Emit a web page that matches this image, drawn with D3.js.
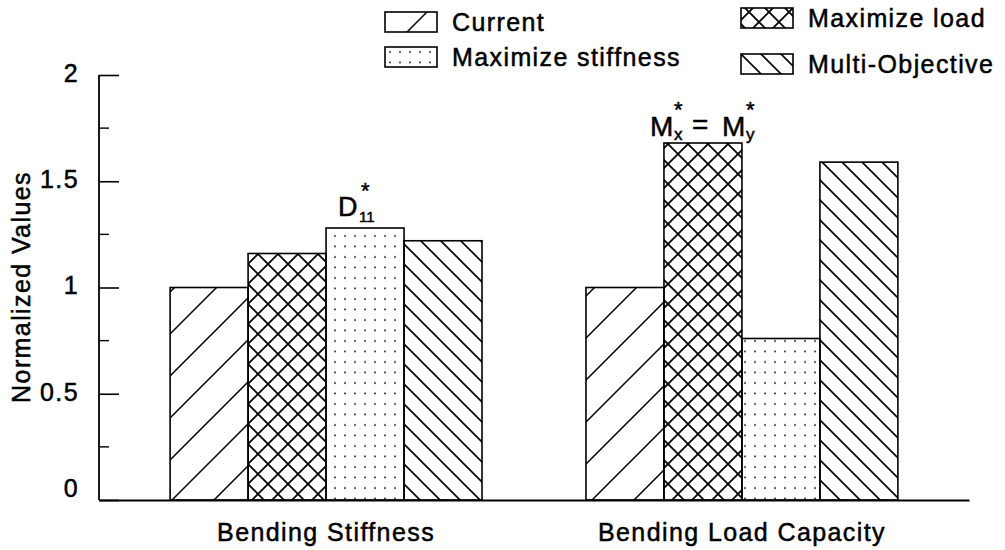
<!DOCTYPE html>
<meta charset="utf-8">
<style>
body { margin: 0; background: #fff; }
text {
  fill: #000;
  font-family: "Liberation Sans", Arial, sans-serif;
  stroke: #000;
  stroke-width: 0.5px;
}
.tick text, .label, .legend text { font-size: 25px; letter-spacing: 1.4px; }
.note { font-size: 27px; }
</style>
<svg width="1005" height="550"></svg>
<script src="https://d3js.org/d3.v7.min.js"></script>
<script>
const groups = ["Bending Stiffness", "Bending Load Capacity"]
const series = ["Current", "Maximize load", "Maximize stiffness", "Multi-Objective"]
const current = [1.0, 1.0]
const maxLoad = [1.16, 1.68]
const maxStiff = [1.28, 0.76]
const multiObj = [1.22, 1.59]
const yTicks = [0, 0.5, 1, 1.5, 2]
const yMinorTicks = [0.25, 0.75, 1.25, 1.75]
const patternIds = ["p-fwd", "p-cross", "p-dots", "p-back"]

const values = [current, maxLoad, maxStiff, multiObj]

const svg = d3.select("svg")
const plotLeft = 99, plotRight = 969, plotTop = 75, plotBottom = 500

const x0 = d3.scaleBand().domain(groups).range([plotLeft, plotRight])
    .paddingInner(0.25).paddingOuter(0.171)
const x1 = d3.scaleBand().domain(series).range([0, x0.bandwidth()])
const y = d3.scaleLinear().domain([0, 2]).range([plotBottom, plotTop])

// fill patterns
const defs = svg.append("defs")

const fwd = defs.append("pattern").attr("id", "p-fwd")
    .attr("patternUnits", "userSpaceOnUse").attr("width", 42).attr("height", 42)
fwd.append("path").attr("d", "M-4,46 L46,-4 M-4,4 L4,-4 M38,46 L46,38")
    .attr("stroke", "#000").attr("stroke-width", 1.5)

const cross = defs.append("pattern").attr("id", "p-cross")
    .attr("patternUnits", "userSpaceOnUse").attr("width", 20).attr("height", 20)
    .attr("x", 8).attr("y", 4)
cross.append("path").attr("d", "M-2,22 L22,-2 M-2,-2 L22,22 M-2,2 L2,-2 M18,22 L22,18 M-2,18 L2,22 M18,-2 L22,2")
    .attr("stroke", "#000").attr("stroke-width", 1.8)

const dots = defs.append("pattern").attr("id", "p-dots")
    .attr("patternUnits", "userSpaceOnUse").attr("width", 10).attr("height", 10.5)
dots.append("circle").attr("cx", 5).attr("cy", 5).attr("r", 1).attr("fill", "#222")

const back = defs.append("pattern").attr("id", "p-back")
    .attr("patternUnits", "userSpaceOnUse").attr("width", 20).attr("height", 20)
back.append("path").attr("d", "M-2,-2 L22,22 M-2,18 L2,22 M18,-2 L22,2")
    .attr("stroke", "#000").attr("stroke-width", 1.6)

// bars
const barData = []
groups.forEach((g, gi) => series.forEach((s, si) => {
  barData.push({group: g, key: s, value: values[si][gi], pid: patternIds[si]})
}))

svg.append("g").selectAll("rect")
  .data(barData)
  .enter().append("rect")
    .attr("x", d => x0(d.group) + x1(d.key))
    .attr("y", d => y(d.value))
    .attr("width", x1.bandwidth())
    .attr("height", d => y(0) - y(d.value))
    .attr("fill", d => `url(#${d.pid})`)
    .attr("stroke", "#000")
    .attr("stroke-width", 1.6)

// y axis, ticks pointing inward
const yAxis = svg.append("g")
    .attr("transform", `translate(${plotLeft},0)`)
    .call(d3.axisRight(y).tickValues(yTicks).tickSize(20).tickFormat(d3.format("")))
yAxis.select(".domain").attr("d", `M0,${y(0)}V${y(2)}`).attr("stroke-width", 1.8)
yAxis.selectAll(".tick line").attr("stroke-width", 1.6)
yAxis.selectAll(".tick text").attr("x", -20).attr("text-anchor", "end")
    .attr("dy", d => d === 0 ? "-0.15em" : "0.25em")

svg.append("g").selectAll("line")
  .data(yMinorTicks)
  .enter().append("line")
    .attr("x1", plotLeft).attr("x2", plotLeft + 10)
    .attr("y1", d => y(d)).attr("y2", d => y(d))
    .attr("stroke", "#000").attr("stroke-width", 1.4)

// x axis
const xAxis = svg.append("g")
    .attr("transform", `translate(0,${plotBottom})`)
    .call(d3.axisBottom(x0).tickSize(0).tickPadding(20))
xAxis.select(".domain").attr("stroke-width", 1.8)
xAxis.selectAll(".tick text").attr("dy", "0.85em")

svg.append("text")
    .attr("class", "label")
    .attr("transform", "translate(30,287) rotate(-90)")
    .attr("text-anchor", "middle")
    .text("Normalized Values")

// annotations above bars, each piece its own text
function note(bar, parts) {
  const cx = x0(bar.group) + x1(bar.key) + x1.bandwidth() / 2
  const top = y(bar.value)
  svg.append("g").selectAll("text")
    .data(parts)
    .enter().append("text")
      .attr("class", "note")
      .attr("x", d => cx + d.dx)
      .attr("y", d => top + d.dy)
      .style("font-size", d => d.size + "px")
      .text(d => d.t)
}

const dBar = barData.find(d => d.group === groups[0] && d.key === "Maximize stiffness")
note(dBar, [
  {t: "D", dx: -27, dy: -12, size: 27},
  {t: "11", dx: -6, dy: -6, size: 15},
  {t: "*", dx: -4, dy: -30, size: 22}
])

const mBar = barData.find(d => d.group === groups[1] && d.key === "Maximize load")
note(mBar, [
  {t: "M", dx: -53, dy: -7, size: 28},
  {t: "x", dx: -29, dy: -3, size: 17},
  {t: "*", dx: -29, dy: -26, size: 22},
  {t: "=", dx: -11, dy: -9, size: 28},
  {t: "M", dx: 19, dy: -7, size: 28},
  {t: "y", dx: 43, dy: -3, size: 17},
  {t: "*", dx: 43, dy: -26, size: 22}
])

// legend, two columns
const legendPos = [
  {key: "Current", x: 385, y: 12},
  {key: "Maximize stiffness", x: 385, y: 47},
  {key: "Maximize load", x: 741, y: 8},
  {key: "Multi-Objective", x: 741, y: 54}
]
const legend = svg.append("g").attr("class", "legend")
  .selectAll("g")
  .data(legendPos)
  .enter().append("g")
    .attr("transform", d => `translate(${d.x},${d.y})`)
legend.append("rect")
    .attr("width", 52).attr("height", 20)
    .attr("fill", d => `url(#${patternIds[series.indexOf(d.key)]})`)
    .attr("stroke", "#000").attr("stroke-width", 1.6)
legend.append("text")
    .attr("x", 67).attr("y", 19)
    .text(d => d.key)
</script>
